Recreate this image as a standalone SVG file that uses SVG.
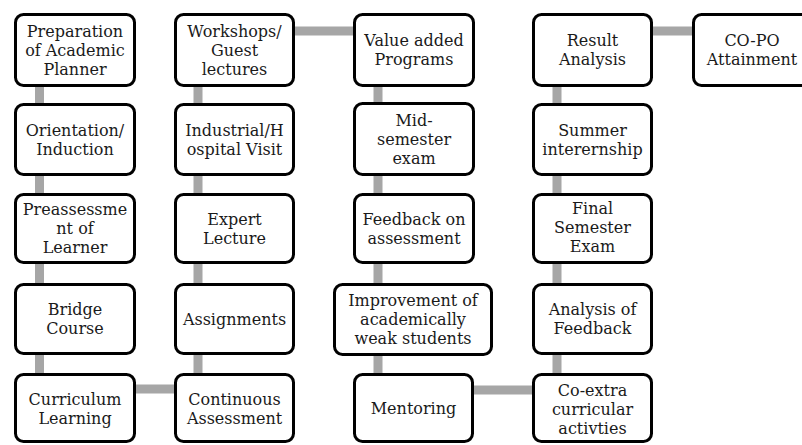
<svg xmlns="http://www.w3.org/2000/svg" width="802" height="445" viewBox="0 0 802 445">
<style>
.box{fill:#fff;stroke:#000;stroke-width:3}
.t{font-family:"DejaVu Serif","Liberation Serif",serif;font-size:16px;fill:#1a1a1a;text-anchor:middle}
.c{stroke:#a6a6a6;stroke-width:9;fill:none}
</style>
<rect width="802" height="445" fill="#fff"/>
<g id="connectors">
<line class="c" x1="39.5" y1="50" x2="39.5" y2="408"/>
<line class="c" x1="198" y1="50" x2="198" y2="408"/>
<line class="c" x1="378" y1="50" x2="378" y2="408"/>
<line class="c" x1="557" y1="50" x2="557" y2="408"/>
<line class="c" x1="130" y1="389" x2="180" y2="389"/>
<line class="c" x1="290" y1="31" x2="358" y2="31"/>
<line class="c" x1="470" y1="390" x2="538" y2="390"/>
<line class="c" x1="648" y1="31" x2="698" y2="31"/>
</g>
<g id="n1"><rect class="box" x="15.5" y="14.5" width="119" height="71" rx="8"/><text class="t" x="75" y="36.5">Preparation<tspan x="75" dy="19">of Academic</tspan><tspan x="75" dy="19">Planner</tspan></text></g>
<g id="n2"><rect class="box" x="15.5" y="104.5" width="119" height="70" rx="8"/><text class="t" x="75" y="135.5">Orientation/<tspan x="75" dy="19">Induction</tspan></text></g>
<g id="n3"><rect class="box" x="15.5" y="194.5" width="119" height="68" rx="8"/><text class="t" x="75" y="215">Preassessme<tspan x="75" dy="19">nt of</tspan><tspan x="75" dy="19">Learner</tspan></text></g>
<g id="n4"><rect class="box" x="15.5" y="284.5" width="119" height="69" rx="8"/><text class="t" x="75" y="315">Bridge<tspan x="75" dy="19">Course</tspan></text></g>
<g id="n5"><rect class="box" x="15.5" y="374.5" width="119" height="67" rx="8"/><text class="t" x="75" y="405">Curriculum<tspan x="75" dy="19">Learning</tspan></text></g>
<g id="n6"><rect class="box" x="175.5" y="14.5" width="118" height="71" rx="8"/><text class="t" x="234.5" y="36.5">Workshops/<tspan x="234.5" dy="19">Guest</tspan><tspan x="234.5" dy="19">lectures</tspan></text></g>
<g id="n7"><rect class="box" x="175.5" y="104.5" width="118" height="70" rx="8"/><text class="t" x="234.5" y="135.5">Industrial/H<tspan x="234.5" dy="19">ospital Visit</tspan></text></g>
<g id="n8"><rect class="box" x="175.5" y="194.5" width="118" height="68" rx="8"/><text class="t" x="234.5" y="224.5">Expert<tspan x="234.5" dy="19">Lecture</tspan></text></g>
<g id="n9"><rect class="box" x="175.5" y="284.5" width="118" height="69" rx="8"/><text class="t" x="234.5" y="324.5">Assignments</text></g>
<g id="n10"><rect class="box" x="175.5" y="374.5" width="118" height="67" rx="8"/><text class="t" x="234.5" y="405">Continuous<tspan x="234.5" dy="19">Assessment</tspan></text></g>
<g id="n11"><rect class="box" x="354.5" y="14.5" width="119" height="71" rx="8"/><text class="t" x="414" y="46">Value added<tspan x="414" dy="19">Programs</tspan></text></g>
<g id="n12"><rect class="box" x="354.5" y="103.5" width="119" height="71" rx="8"/><text class="t" x="414" y="126">Mid-<tspan x="414" dy="19">semester</tspan><tspan x="414" dy="19">exam</tspan></text></g>
<g id="n13"><rect class="box" x="354.5" y="194.5" width="119" height="68" rx="8"/><text class="t" x="414" y="224.5">Feedback on<tspan x="414" dy="19">assessment</tspan></text></g>
<g id="n14"><rect class="box" x="334.5" y="284.5" width="157" height="70" rx="8"/><text class="t" x="413" y="305.5">Improvement of<tspan x="413" dy="19">academically</tspan><tspan x="413" dy="19">weak students</tspan></text></g>
<g id="n15"><rect class="box" x="354.5" y="374.5" width="118" height="67" rx="8"/><text class="t" x="413.5" y="414">Mentoring</text></g>
<g id="n16"><rect class="box" x="533.5" y="14.5" width="118" height="71" rx="8"/><text class="t" x="592.5" y="46">Result<tspan x="592.5" dy="19">Analysis</tspan></text></g>
<g id="n17"><rect class="box" x="533.5" y="104.5" width="118" height="70" rx="8"/><text class="t" x="592.5" y="135.5">Summer<tspan x="592.5" dy="19">interernship</tspan></text></g>
<g id="n18"><rect class="box" x="533.5" y="194.5" width="118" height="68" rx="8"/><text class="t" x="592.5" y="214">Final<tspan x="592.5" dy="19">Semester</tspan><tspan x="592.5" dy="19">Exam</tspan></text></g>
<g id="n19"><rect class="box" x="533.5" y="284.5" width="118" height="69" rx="8"/><text class="t" x="592.5" y="315">Analysis of<tspan x="592.5" dy="19">Feedback</tspan></text></g>
<g id="n20"><rect class="box" x="533.5" y="374.5" width="118" height="67" rx="8"/><text class="t" x="592.5" y="395.5">Co-extra<tspan x="592.5" dy="19">curricular</tspan><tspan x="592.5" dy="19">activties</tspan></text></g>
<g id="n21"><rect class="box" x="693.5" y="14.5" width="118" height="71" rx="8"/><text class="t" x="752" y="46">CO-PO<tspan x="752" dy="19">Attainment</tspan></text></g>
</svg>
